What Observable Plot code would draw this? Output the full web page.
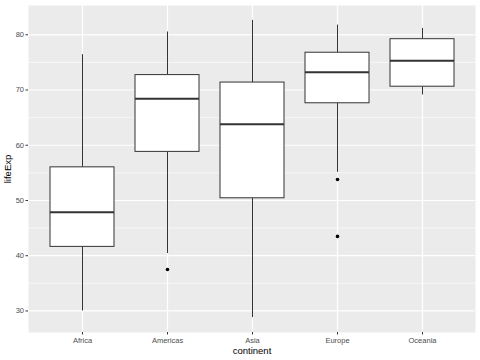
<!DOCTYPE html>
<html>
<head>
<meta charset="utf-8">
<script src="https://cdn.jsdelivr.net/npm/d3@7"></script>
<script src="https://cdn.jsdelivr.net/npm/@observablehq/plot@0.6"></script>
<style>
  html, body { margin: 0; padding: 0; background: #fff; }
  #chart { width: 480px; height: 360px; }
</style>
</head>
<body>
<div id="chart"></div>
<script>
const continents = ["Africa", "Americas", "Asia", "Europe", "Oceania"];
const lowerWhisker = [30.0, 40.4, 28.8, 55.1, 69.1];
const q1 = [41.6, 58.8, 50.4, 67.6, 70.6];
const median = [47.85, 68.4, 63.8, 73.2, 75.3];
const q3 = [56.0, 72.7, 71.35, 76.75, 79.2];
const upperWhisker = [76.4, 80.5, 82.6, 81.75, 81.15];
const outlierContinent = ["Americas", "Europe", "Europe"];
const outlierValue = [37.5, 53.8, 43.5];
const majorTicks = [30, 40, 50, 60, 70, 80];
const minorTicks = [35, 45, 55, 65, 75];

const boxes = continents.map((c, i) => ({
  continent: c, lo: lowerWhisker[i], q1: q1[i], med: median[i], q3: q3[i], hi: upperWhisker[i]
}));
const outliers = outlierContinent.map((c, i) => ({continent: c, v: outlierValue[i]}));

const ink = "#333333";
const font = "Liberation Sans, Arial, Helvetica, sans-serif";

const chart = Plot.plot({
  width: 480,
  height: 360,
  marginLeft: 28,
  marginRight: 5,
  marginTop: 5,
  marginBottom: 28,
  style: {fontFamily: font, background: "#fff", overflow: "visible"},
  x: {type: "band", domain: continents, paddingInner: 0.25, paddingOuter: 0.225},
  y: {domain: [26.1, 85.3]},
  marks: [
    Plot.frame({fill: "#EBEBEB", stroke: null}),
    Plot.ruleY(minorTicks, {stroke: "#fff", strokeWidth: 0.6}),
    Plot.ruleY(majorTicks, {stroke: "#fff", strokeWidth: 1.2}),
    Plot.ruleX(continents, {x: d => d, stroke: "#fff", strokeWidth: 1.2}),
    Plot.ruleX(boxes, {x: "continent", y1: "q3", y2: "hi", stroke: ink, strokeWidth: 1}),
    Plot.ruleX(boxes, {x: "continent", y1: "lo", y2: "q1", stroke: ink, strokeWidth: 1}),
    Plot.barY(boxes, {x: "continent", y1: "q1", y2: "q3", fill: "#fff", stroke: ink, strokeWidth: 1}),
    Plot.tickY(boxes, {x: "continent", y: "med", stroke: ink, strokeWidth: 2}),
    Plot.dot(outliers, {x: "continent", y: "v", r: 1.8, fill: "#000", stroke: null}),
    Plot.axisY({
      ticks: majorTicks, tickSize: 2.5, tickPadding: 2, fontSize: 7.5,
      color: "#4D4D4D", stroke: ink,
      label: "lifeExp", labelAnchor: "center", labelArrow: "none", labelOffset: 24
    }),
    Plot.axisX({
      tickSize: 2.5, tickPadding: 3, fontSize: 7.5, color: "#4D4D4D",
      label: "continent", labelAnchor: "center", labelArrow: "none", labelOffset: 21
    })
  ]
});

d3.select(chart).selectAll("g[aria-label='y-axis label'] text, g[aria-label='x-axis label'] text")
  .attr("fill", "#000").style("font-size", "9.5px");
d3.select(chart).selectAll("g[aria-label='y-axis label'], g[aria-label='x-axis label']")
  .attr("fill", "#000").attr("font-size", "9.5px");
d3.select(chart).selectAll("g[aria-label='y-axis tick'], g[aria-label='x-axis tick']").attr("stroke", ink);

document.getElementById("chart").appendChild(chart);
</script>
</body>
</html>
